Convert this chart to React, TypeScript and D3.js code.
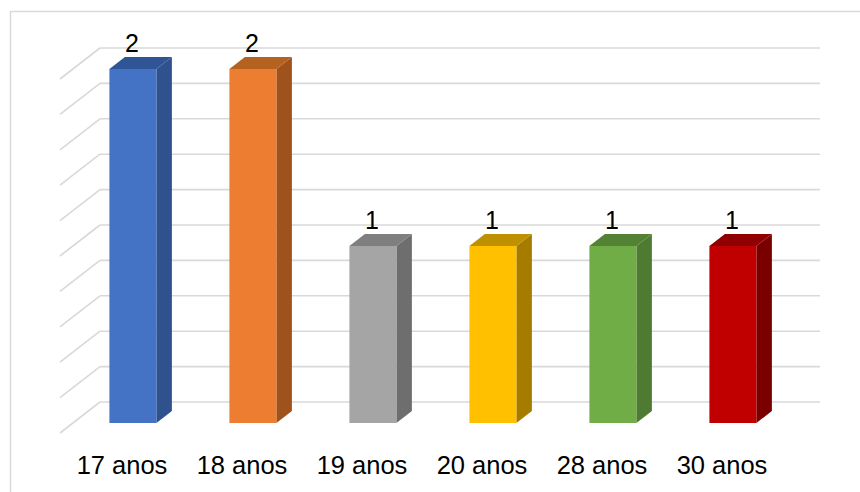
import React from "react";
import * as d3 from "d3";

// Age groups and counts
const categories: string[] = ["17 anos", "18 anos", "19 anos", "20 anos", "28 anos", "30 anos"];
const counts: number[] = [2, 2, 1, 1, 1, 1];

// Face colours per bar: front, side, top
const frontColors: string[] = ["#4472C4", "#ED7D31", "#A5A5A5", "#FFC000", "#70AD47", "#C00000"];
const sideColors: string[] = ["#2F528F", "#A0521D", "#6E6E6E", "#A67C00", "#4E7A31", "#7A0000"];
const topColors: string[] = ["#2F5597", "#B5611F", "#7F7F7F", "#BF9000", "#548235", "#900000"];

const W = 860;
const H = 492;

// 3D floor geometry: back wall and floor depth vector
const backLeft = 100;
const backRight = 820;
const depthX = 40;
const depthY = 31;
const barDepthStart = 10 / 31;
const barDepthEnd = 22 / 31;
const barWidth = 47;

export default function App() {
  const y = d3.scaleLinear().domain([0, 2]).range([402, 48]);
  const ticks = d3.range(0, 2.0001, 0.2);

  const x = d3
    .scaleBand<string>()
    .domain(categories)
    .range([backLeft - depthX, backRight - depthX])
    .paddingInner(0)
    .paddingOuter(0);

  const fontFamily = "'Liberation Sans', Arial, sans-serif";

  return (
    <svg
      width={W}
      height={H}
      style={{ position: "absolute", left: 0, top: 0, background: "#fff" }}
      fontFamily={fontFamily}
    >
      <rect x={10.5} y={11.5} width={W} height={H} fill="none" stroke="#D9D9D9" strokeWidth={1.5} />

      {/* gridlines on back wall and left floor edge */}
      {ticks.map((t, i) => {
        const yy = y(t);
        return (
          <g key={i} stroke="#D9D9D9" strokeWidth={1.6} fill="none">
            <line x1={backLeft} x2={backRight} y1={yy} y2={yy} />
            <line x1={backLeft - depthX} y1={yy + depthY} x2={backLeft} y2={yy} />
          </g>
        );
      })}

      {/* bars */}
      {categories.map((c, i) => {
        const v = counts[i];
        const cx = (x(c) as number) + x.bandwidth() / 2 + depthX * barDepthStart;
        const baseY = y(0) + depthY * (1 - barDepthStart);
        const h = y(0) - y(v);
        const x0 = cx - barWidth / 2;
        const x1 = cx + barWidth / 2;
        const topY = baseY - h;
        const dx = depthX * (barDepthEnd - barDepthStart);
        const dy = depthY * (barDepthEnd - barDepthStart);
        const front = `M${x0},${baseY}L${x1},${baseY}L${x1},${topY}L${x0},${topY}Z`;
        const side = `M${x1},${baseY}L${x1 + dx},${baseY - dy}L${x1 + dx},${topY - dy}L${x1},${topY}Z`;
        const top = `M${x0},${topY}L${x1},${topY}L${x1 + dx},${topY - dy}L${x0 + dx},${topY - dy}Z`;
        return (
          <g key={c}>
            <path d={side} fill={sideColors[i]} />
            <path d={top} fill={topColors[i]} />
            <path d={front} fill={frontColors[i]} />
            <text
              x={cx - 1}
              y={topY - dy - 5}
              textAnchor="middle"
              fontSize={25}
              fill="#000"
            >
              {v}
            </text>
          </g>
        );
      })}

      {/* category labels */}
      {categories.map((c) => (
        <text
          key={c}
          x={(x(c) as number) + x.bandwidth() / 2 + 2}
          y={474}
          textAnchor="middle"
          fontSize={25.5}
          fill="#000"
        >
          {c}
        </text>
      ))}
    </svg>
  );
}
